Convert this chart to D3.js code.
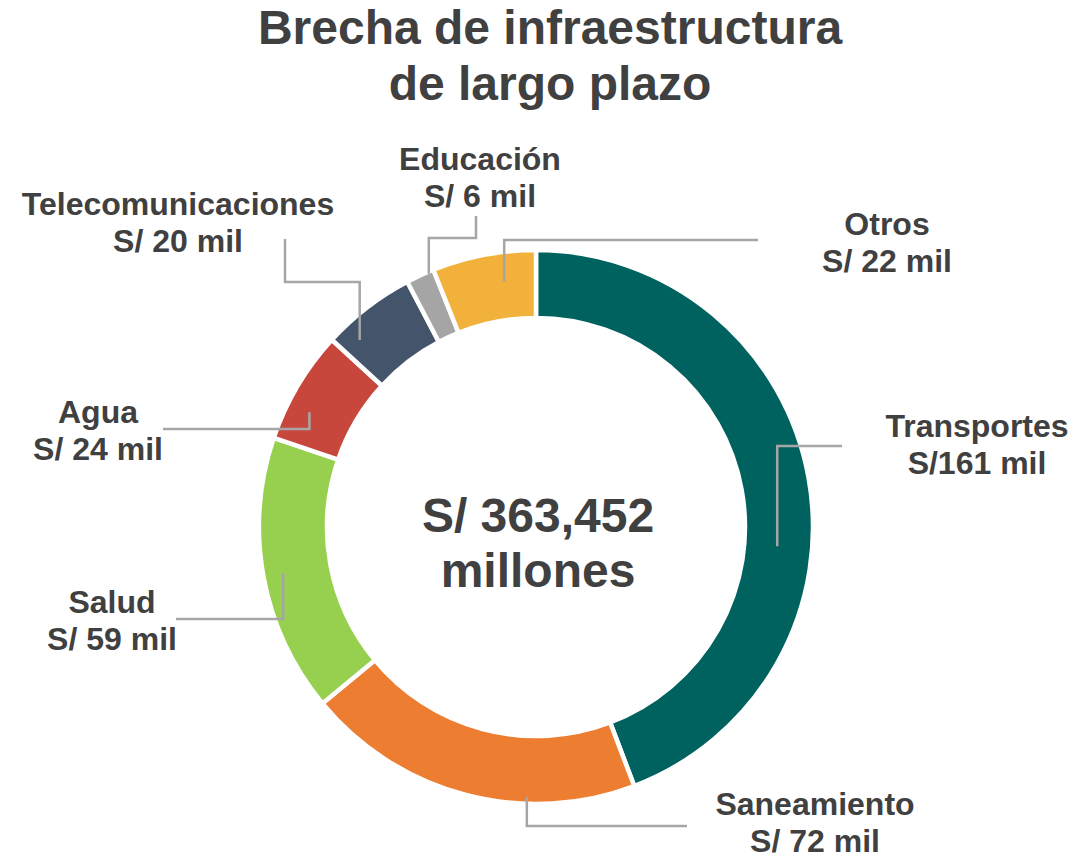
<!DOCTYPE html>
<html>
<head>
<meta charset="utf-8">
<script src="https://cdn.jsdelivr.net/npm/d3@7"></script>
<style>
  html, body { margin: 0; padding: 0; background: #fff; }
  svg text { font-family: "Liberation Sans", Arial, sans-serif; font-weight: bold; fill: #404040; }
</style>
</head>
<body>
<div id="chart"></div>
<script>
//Datos
const categories = ['Transportes', 'Saneamiento', 'Salud', 'Agua', 'Telecomunicaciones', 'Educación', 'Otros'];
const values = [161, 72, 59, 24, 20, 6, 22];
const valueLabels = ['S/161 mil', 'S/ 72 mil', 'S/ 59 mil', 'S/ 24 mil', 'S/ 20 mil', 'S/ 6 mil', 'S/ 22 mil'];
const titleLines = ['Brecha de infraestructura', 'de largo plazo'];
const centerLines = ['S/ 363,452', 'millones'];

//Colores
const colors = ['#00625F', '#ED7D31', '#97D04F', '#C8473D', '#44546A', '#A5A5A5', '#F2B13A'];

//Posición de etiquetas y líneas guía (t: fracción dentro del sector, r: radio de anclaje)
const labelLayout = {
    'Transportes':        {x: 977, y: 437, t: 0.594, r: 242, moves: [['v', 446], ['h', 842]]},
    'Saneamiento':        {x: 815, y: 815, t: 0.319, r: 270, moves: [['v', 826], ['h', 687]]},
    'Salud':              {x: 112, y: 613, t: 0.50,  r: 257, moves: [['v', 619], ['h', 176]]},
    'Agua':               {x: 98,  y: 423, t: 0.34,  r: 254, moves: [['v', 429], ['h', 163]]},
    'Telecomunicaciones': {x: 178, y: 215, t: 0.21,  r: 257, moves: [['v', 282], ['h', 285], ['v', 239]]},
    'Educación':          {x: 480, y: 170, t: 0.80,  r: 275, moves: [['v', 238], ['h', 476], ['v', 216]]},
    'Otros':              {x: 887, y: 235, t: 0.66,  r: 247, moves: [['v', 240], ['h', 758]]}
};

const width = 1091, height = 858;
const cx = 536, cy = 527;
const outerR = 277, innerR = 209;

let svg = d3.select('#chart')
    .append('svg')
    .attr('width', width)
    .attr('height', height);

//Título
svg.append('text')
    .attr('x', 550)
    .attr('text-anchor', 'middle')
    .style('font-size', '48px')
    .selectAll('tspan')
    .data(titleLines)
    .enter()
    .append('tspan')
    .attr('x', 550)
    .attr('y', function(d, i) { return 44 + i * 56; })
    .text(function(d) { return d; });

let data = categories.map(function(c, i) {
    return {name: c, value: values[i], label: valueLabels[i], color: colors[i]};
});

let pie = d3.pie()
    .sort(null)
    .value(function(d) { return d.value; });

let arc = d3.arc()
    .innerRadius(innerR)
    .outerRadius(outerR);

let g = svg.append('g')
    .attr('transform', 'translate(' + cx + ',' + cy + ')');

let arcs = pie(data);

g.selectAll('path.slice')
    .data(arcs)
    .enter()
    .append('path')
    .attr('class', 'slice')
    .attr('d', arc)
    .attr('fill', function(d) { return d.data.color; })
    .attr('stroke', '#fff')
    .attr('stroke-width', 4.5);

//Líneas guía y etiquetas
arcs.forEach(function(d) {
    let lay = labelLayout[d.data.name];
    let a = d.startAngle + (d.endAngle - d.startAngle) * lay.t;
    let x = cx + lay.r * Math.sin(a);
    let y = cy - lay.r * Math.cos(a);
    let pts = [[x, y]];
    lay.moves.forEach(function(m) {
        if (m[0] == 'v') { y = m[1]; } else { x = m[1]; }
        pts.push([x, y]);
    });
    svg.append('path')
        .attr('d', d3.line()(pts))
        .attr('fill', 'none')
        .attr('stroke', '#A6A6A6')
        .attr('stroke-width', 2.5);

    let t = svg.append('text')
        .attr('text-anchor', 'middle')
        .style('font-size', '32px');
    t.append('tspan').attr('x', lay.x).attr('y', lay.y).text(d.data.name);
    t.append('tspan').attr('x', lay.x).attr('y', lay.y + 37).text(d.data.label);
});

//Texto central
svg.append('text')
    .attr('text-anchor', 'middle')
    .style('font-size', '48px')
    .selectAll('tspan')
    .data(centerLines)
    .enter()
    .append('tspan')
    .attr('x', 538)
    .attr('y', function(d, i) { return 532 + i * 55; })
    .text(function(d) { return d; });
</script>
</body>
</html>
